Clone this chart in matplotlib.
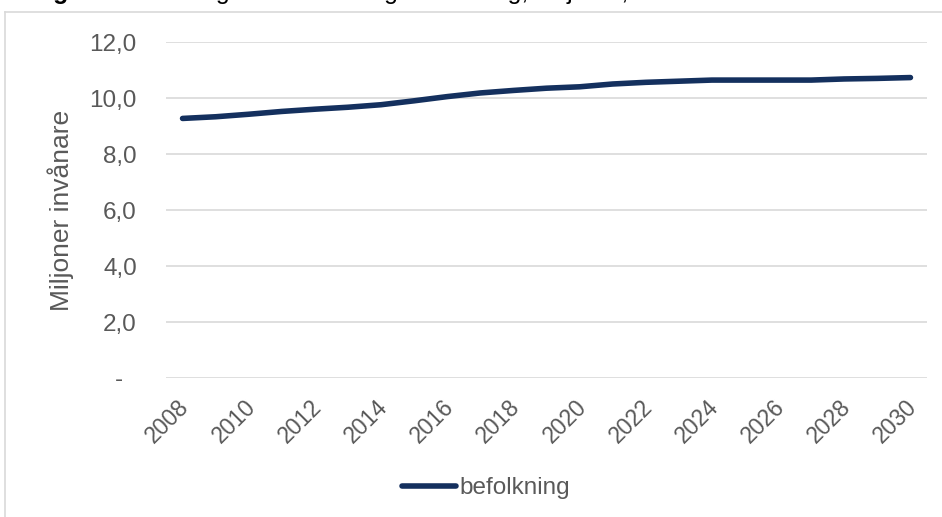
import matplotlib
matplotlib.use("Agg")
import matplotlib.pyplot as plt
import matplotlib.transforms as mtransforms
from matplotlib.lines import Line2D
from matplotlib.ticker import FuncFormatter

plt.rcParams['font.family'] = ['Liberation Sans', 'DejaVu Sans']

years = list(range(2008, 2031))
befolkning = [9.27, 9.33, 9.42, 9.52, 9.60, 9.67, 9.76, 9.90, 10.05, 10.18, 10.27,
              10.35, 10.40, 10.50, 10.56, 10.60, 10.64, 10.64, 10.64, 10.64, 10.68,
              10.70, 10.73]
y_ticks = [0, 2, 4, 6, 8, 10, 12]
x_tick_years = list(range(2008, 2031, 2))

W, H = 942, 517
fig = plt.figure(figsize=(W / 100, H / 100), dpi=100)

# chart frame (light grey border, left and top visible)
fig.add_artist(Line2D([5 / W, 5 / W], [0, 1 - 12 / H], color='#d9d9d9', lw=1.2,
                      transform=fig.transFigure))
fig.add_artist(Line2D([5 / W, 1], [1 - 12 / H, 1 - 12 / H], color='#d9d9d9', lw=1.2,
                      transform=fig.transFigure))

# heading sitting on the top edge of the page
fig.text(31 / W, 1 + 1 / H, "Figur 2", fontsize=18, fontweight='bold',
         va='baseline', ha='left', color='black')
fig.text(113 / W, 1 + 1 / H,
         "Befolkning och befolkningsutveckling, miljoner, 2008–2030",
         fontsize=18, va='baseline', ha='left', color='black')

left, right = 166 / W, 927 / W
bottom, top = 1 - 378 / H, 1 - 42 / H
ax = fig.add_axes([left, bottom, right - left, top - bottom])

x = list(range(len(years)))
line, = ax.plot(x, befolkning, color='#14305e', lw=4.0, solid_capstyle='round',
                solid_joinstyle='round', label='befolkning', zorder=3)

ax.set_xlim(-0.5, len(years) - 0.5)
ax.set_ylim(0, 12)
ax.set_yticks(y_ticks)
ax.yaxis.set_major_formatter(FuncFormatter(
    lambda v, p: '-  ' if v == 0 else f"{v:.1f}".replace('.', ',')))
ax.set_xticks([years.index(y) for y in x_tick_years])
ax.set_xticklabels([str(y) for y in x_tick_years], rotation=45, ha='right',
                   rotation_mode='anchor')

ax.grid(axis='y', color='#d9d9d9', lw=1.2)
ax.set_axisbelow(True)
for s in ax.spines.values():
    s.set_visible(False)
ax.tick_params(axis='both', length=0, colors='#595959')
ax.tick_params(axis='y', pad=21, labelsize=17.5)
ax.tick_params(axis='x', pad=8, labelsize=16.5)

# nudge the rotated year labels slightly left and down
shift = mtransforms.ScaledTranslation(-5 / 100, -6 / 100, fig.dpi_scale_trans)
for lbl in ax.get_xticklabels():
    lbl.set_transform(lbl.get_transform() + shift)

ax.set_ylabel("Miljoner invånare", fontsize=19, color='#595959', labelpad=11)

fig.legend(handles=[line], loc='center', bbox_to_anchor=(486 / W, 1 - 488 / H),
           frameon=False, fontsize=17.5, handlelength=2.2, handletextpad=0.15,
           labelcolor='#595959')

fig.savefig("out.png", dpi=100)
